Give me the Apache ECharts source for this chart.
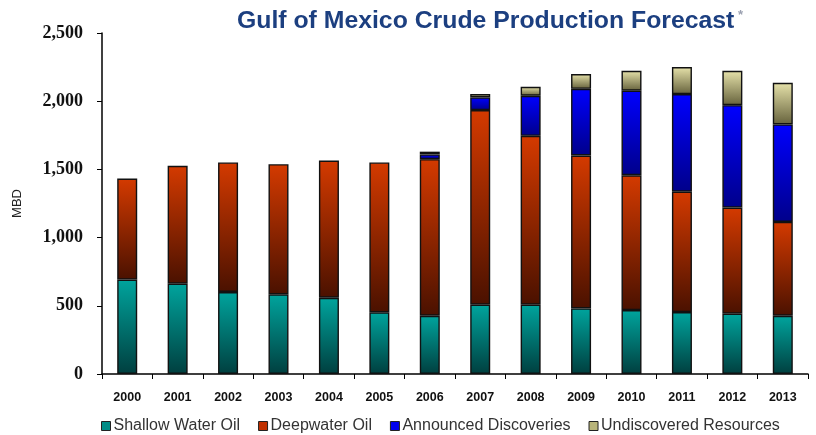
<!DOCTYPE html>
<html>
<head>
<meta charset="utf-8">
<script src="https://cdn.jsdelivr.net/npm/echarts@6/dist/echarts.min.js"></script>
<style>html,body{margin:0;padding:0;background:#fff;}#c{width:816px;height:435px;}</style>
</head>
<body>
<div id="c"></div>
<script>
const years = ['2000','2001','2002','2003','2004','2005','2006','2007','2008','2009','2010','2011','2012','2013'];
const shallowWater = [692,662,601,584,559,452,427,508,508,481,469,454,442,427];
const deepwater = [741,864,950,954,1006,1099,1148,1427,1238,1121,988,883,778,688];
const announced = [0,0,0,0,0,0,35,93,294,489,620,715,751,715];
const undiscovered = [0,0,0,0,0,0,20,24,66,108,146,198,252,305];
const yTicks = [0,500,1000,1500,2000,2500];

function grad(top, bottom){
  return new echarts.graphic.LinearGradient(0,0,0,1,[{offset:0,color:top},{offset:1,color:bottom}]);
}
const chart = echarts.init(document.getElementById('c'), null, {renderer:'canvas'});
const seriesDefs = [
  {name:'Shallow Water Oil', data:shallowWater, top:'#00a49d', bottom:'#003f3f', legend:'#008c86'},
  {name:'Deepwater Oil', data:deepwater, top:'#d43a00', bottom:'#4a1100', legend:'#c03000'},
  {name:'Announced Discoveries', data:announced, top:'#0000ff', bottom:'#00008a', legend:'#0000ee'},
  {name:'Undiscovered Resources', data:undiscovered, top:'#e6e2aa', bottom:'#66623c', legend:'#b8b47a'}
];
chart.setOption({
  animation:false,
  title:{
    text:'Gulf of Mexico Crude Production Forecast{s| *}',
    left:485, top:4, textAlign:'center',
    textStyle:{fontFamily:'Liberation Sans, Arial, sans-serif', fontWeight:'bold', fontSize:24.8, color:'#1c3f80',
      rich:{s:{fontSize:13, color:'#9aa0b0', verticalAlign:'top', padding:[0,0,10,0]}}}
  },
  legend:{
    left:96, top:413, itemGap:18, itemWidth:9, itemHeight:9, icon:'rect',
    textStyle:{fontFamily:'Liberation Sans, Arial, sans-serif', fontSize:16, color:'#333', padding:[0,0,0,-2]},
    data: seriesDefs.map(s=>({name:s.name, itemStyle:{color:s.legend, borderColor:'#222', borderWidth:1}}))
  },
  grid:{left:102, right:8, top:33, bottom:61},
  xAxis:{
    type:'category', data:years,
    axisLine:{lineStyle:{color:'#000', width:1.5}},
    axisTick:{show:true, inside:false, length:5, lineStyle:{color:'#000'}},
    axisLabel:{margin:17, fontFamily:'Liberation Sans, Arial, sans-serif', fontWeight:'bold', fontSize:12.5, color:'#111'}
  },
  yAxis:{
    type:'value', min:0, max:2500, interval:500,
    name:'MBD', nameLocation:'middle', nameGap:78, nameRotate:90,
    nameTextStyle:{fontFamily:'Liberation Sans, Arial, sans-serif', fontSize:13, color:'#222'},
    axisLine:{show:true, lineStyle:{color:'#000', width:1.5}},
    axisTick:{show:true, length:5, lineStyle:{color:'#000'}},
    splitLine:{show:false},
    axisLabel:{margin:19, fontFamily:'Liberation Serif, Times New Roman, serif', fontWeight:'bold', fontSize:18, color:'#111',
      formatter:v=>yTicks.includes(v)? v.toLocaleString('en-US') : ''}
  },
  series: seriesDefs.map(s=>({
    name:s.name, type:'bar', stack:'total', barWidth:20,
    data:s.data.map(v=> v===0 ? '-' : v),
    itemStyle:{color:grad(s.top,s.bottom), borderColor:'#111', borderWidth:1.4}
  }))
});
</script>
</body>
</html>
